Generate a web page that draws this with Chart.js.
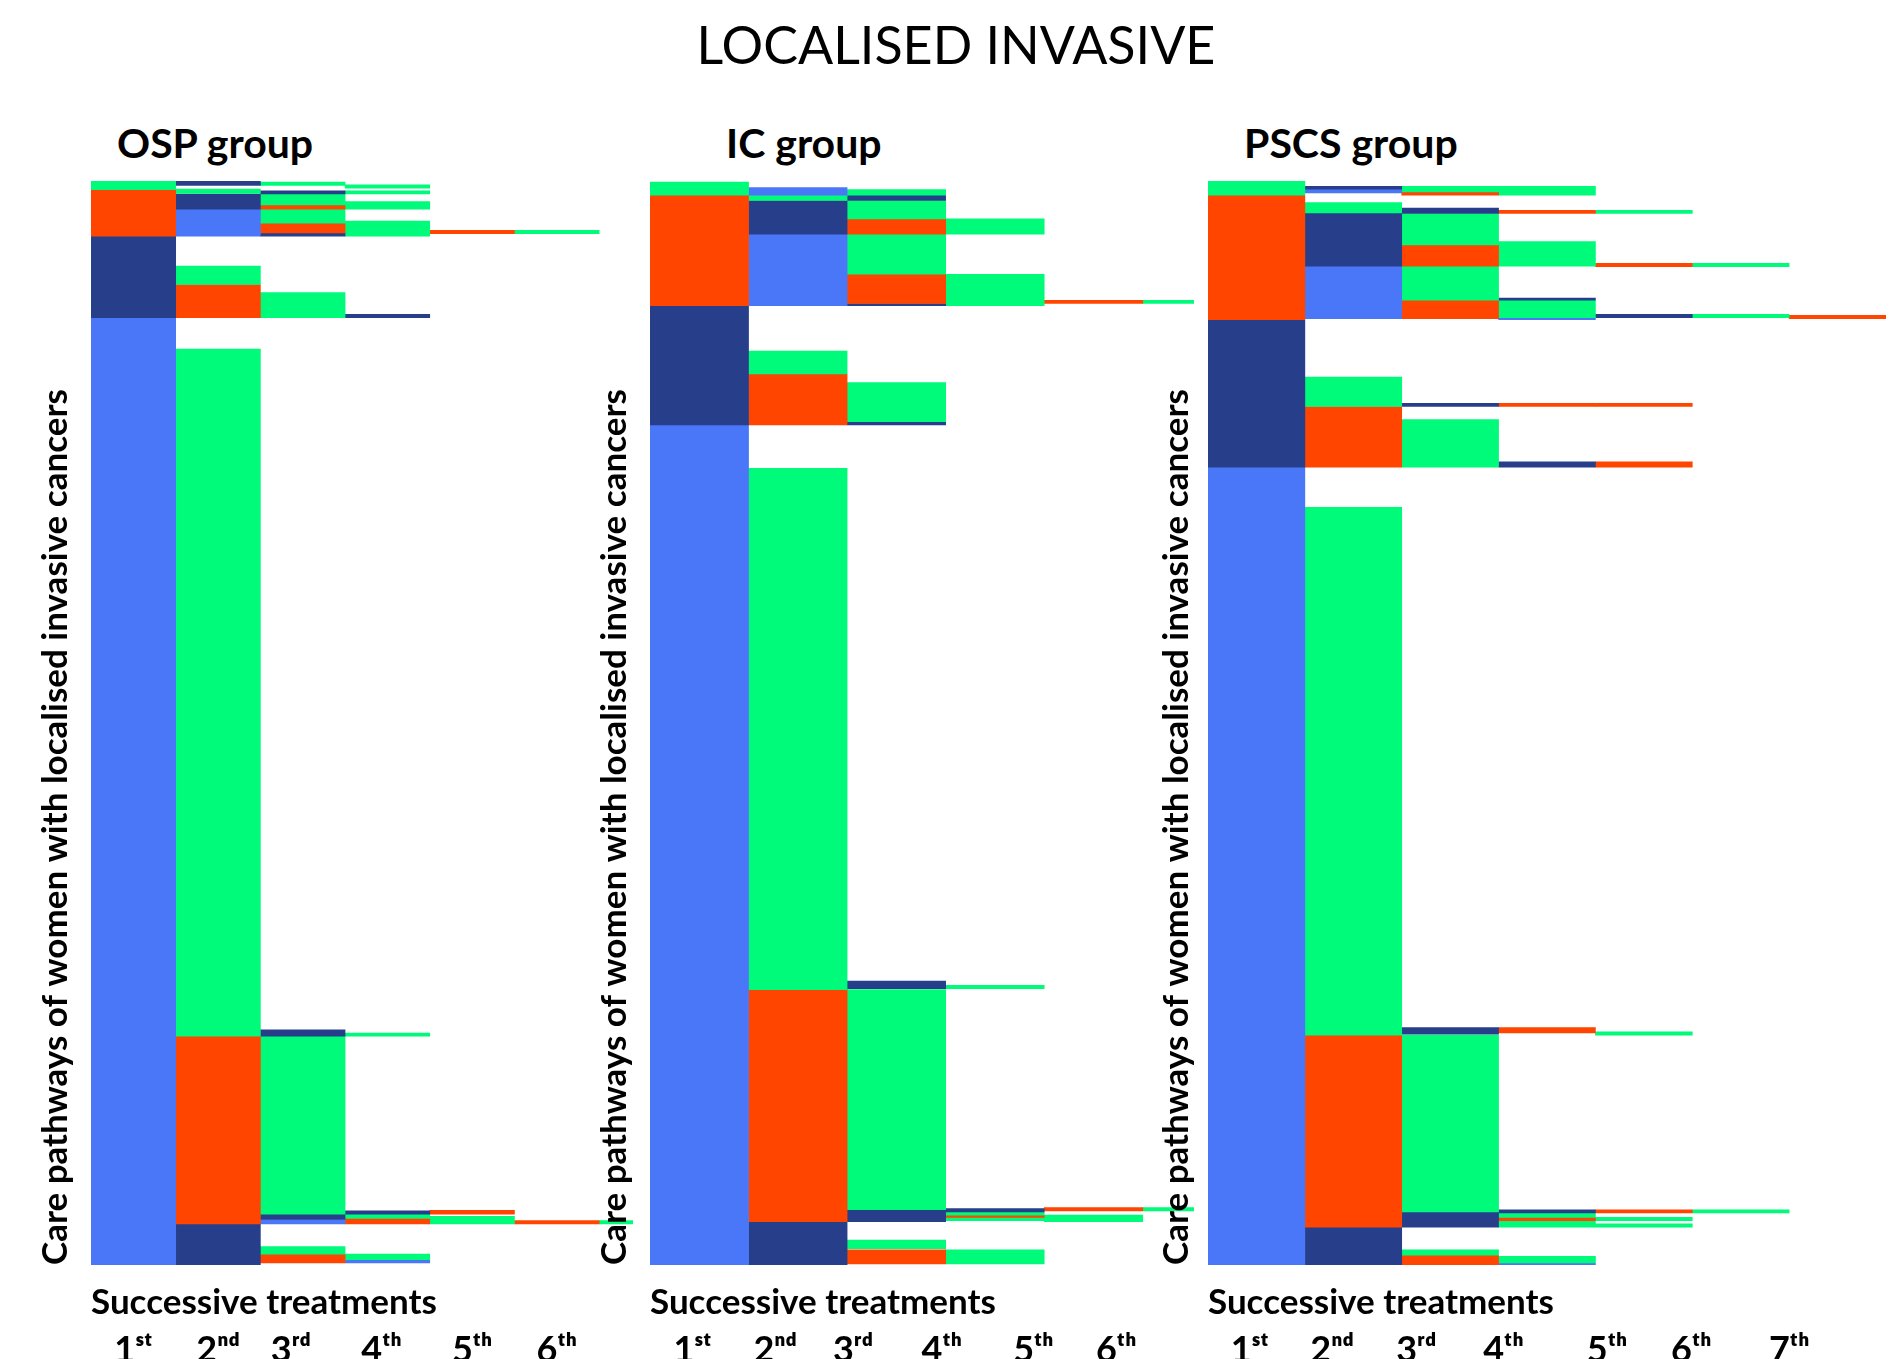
<!DOCTYPE html>
<html>
<head>
<meta charset="utf-8">
<script src="https://cdn.jsdelivr.net/npm/chart.js@4.4.1/dist/chart.umd.min.js"></script>
<style>
  body { margin: 0; background: #fff; width: 1898px; height: 1359px; position: relative; overflow: hidden; font-family: Lato, sans-serif; }
  .ttl { position: absolute; color: #000; white-space: nowrap; }
  #main { left: 0; width: 1912px; text-align: center; top: 18px; font-size: 52px; line-height: 52px; }
  .grp { font-weight: bold; font-size: 41px; line-height: 41px; top: 122px; }
  canvas { position: absolute; top: 170px; }
</style>
</head>
<body>
<div id="main" class="ttl">LOCALISED INVASIVE</div>
<div class="ttl grp" style="left:117px">OSP group</div>
<div class="ttl grp" style="left:726px">IC group</div>
<div class="ttl grp" style="left:1244px">PSCS group</div>
<canvas id="osp"></canvas>
<canvas id="ic"></canvas>
<canvas id="pscs"></canvas>
<script>
// successive treatments (columns) and their tick labels
const stepLabels = ['1ˢᵗ', '2ⁿᵈ', '3ʳᵈ', '4ᵗʰ', '5ᵗʰ', '6ᵗʰ', '7ᵗʰ'];

// treatment types A..D
const typeColors = { A: '#4a77f8', B: '#273f8a', C: '#ff4500', D: '#00fa7a' };

// segments: [treatment step, from %, to %, type]  (% of pathways, from the top)
const ospSegments = [
  [1, 0, 0.8, 'D'], [1, 0.8, 5.1, 'C'], [1, 5.1, 12.6, 'B'], [1, 12.6, 100, 'A'],
  [2, 0, 0.4, 'B'], [2, 0.75, 1.15, 'D'], [2, 1.2, 2.6, 'B'], [2, 2.6, 5.1, 'A'],
  [2, 7.85, 9.55, 'D'], [2, 9.55, 12.6, 'C'],
  [2, 15.5, 78.9, 'D'], [2, 78.9, 96.2, 'C'], [2, 96.2, 100, 'B'],
  [3, 0.1, 0.4, 'D'], [3, 0.9, 1.2, 'B'], [3, 1.2, 2.2, 'D'], [3, 2.2, 2.6, 'C'],
  [3, 2.6, 3.9, 'D'], [3, 3.9, 4.8, 'C'], [3, 4.8, 5.1, 'B'], [3, 10.3, 12.6, 'D'],
  [3, 78.3, 78.9, 'B'], [3, 78.9, 95.3, 'D'], [3, 95.3, 95.8, 'B'], [3, 95.8, 96.2, 'A'],
  [3, 98.3, 99.0, 'D'], [3, 99.0, 99.8, 'C'],
  [4, 0.35, 0.65, 'D'], [4, 0.9, 1.2, 'D'], [4, 1.9, 2.6, 'D'], [4, 3.7, 5.1, 'D'],
  [4, 12.3, 12.6, 'B'], [4, 78.6, 78.9, 'D'], [4, 95.0, 95.3, 'B'], [4, 95.3, 95.7, 'D'],
  [4, 95.7, 96.2, 'C'], [4, 99.0, 99.5, 'D'], [4, 99.5, 99.8, 'A'],
  [5, 4.55, 4.85, 'C'], [5, 94.95, 95.3, 'C'], [5, 95.5, 96.2, 'D'],
  [6, 4.55, 4.85, 'D'], [6, 95.9, 96.2, 'C'],
  [7, 95.9, 96.2, 'D']
];

const icSegments = [
  [1, 0.1, 1.3, 'D'], [1, 1.3, 11.5, 'C'], [1, 11.5, 22.5, 'B'], [1, 22.5, 100, 'A'],
  [2, 0.6, 1.3, 'A'], [2, 1.3, 1.8, 'D'], [2, 1.8, 4.9, 'B'], [2, 4.9, 11.5, 'A'],
  [2, 15.7, 17.8, 'D'], [2, 17.8, 22.5, 'C'],
  [2, 26.5, 74.6, 'D'], [2, 74.6, 96.0, 'C'], [2, 96.0, 100, 'B'],
  [3, 0.8, 1.3, 'D'], [3, 1.3, 1.8, 'B'], [3, 1.8, 3.5, 'D'], [3, 3.5, 4.9, 'C'],
  [3, 4.9, 8.6, 'D'], [3, 8.6, 11.3, 'C'], [3, 11.3, 11.5, 'B'],
  [3, 18.6, 22.2, 'D'], [3, 22.2, 22.5, 'B'],
  [3, 73.8, 74.5, 'B'], [3, 74.6, 94.9, 'D'], [3, 94.9, 96.0, 'B'],
  [3, 97.7, 98.5, 'D'], [3, 98.6, 99.9, 'C'],
  [4, 3.5, 4.9, 'D'], [4, 8.6, 11.5, 'D'], [4, 74.2, 74.5, 'D'],
  [4, 94.8, 95.1, 'B'], [4, 95.1, 95.4, 'D'], [4, 95.4, 95.6, 'C'], [4, 95.6, 95.9, 'D'],
  [4, 98.6, 99.9, 'D'],
  [5, 11.0, 11.3, 'C'], [5, 94.7, 95.0, 'C'], [5, 95.4, 96.0, 'D'],
  [6, 11.0, 11.3, 'D'], [6, 94.7, 95.0, 'D']
];

const pscsSegments = [
  [1, 0, 1.3, 'D'], [1, 1.3, 12.8, 'C'], [1, 12.8, 26.4, 'B'], [1, 26.4, 100, 'A'],
  [2, 0.5, 0.75, 'B'], [2, 0.75, 1.1, 'A'], [2, 2.0, 2.95, 'D'], [2, 2.95, 7.85, 'B'],
  [2, 7.85, 12.7, 'A'], [2, 18.1, 20.8, 'D'], [2, 20.8, 26.4, 'C'],
  [2, 30.1, 78.8, 'D'], [2, 78.8, 96.5, 'C'], [2, 96.5, 100, 'B'],
  [3, 0.5, 1.0, 'D'], [3, 1.0, 1.3, 'C'], [3, 2.5, 3.0, 'B'], [3, 3.0, 5.9, 'D'],
  [3, 5.9, 7.85, 'C'], [3, 7.85, 11.0, 'D'], [3, 11.0, 12.7, 'C'],
  [3, 20.5, 20.8, 'B'], [3, 22.0, 26.4, 'D'],
  [3, 78.1, 78.7, 'B'], [3, 78.8, 95.1, 'D'], [3, 95.1, 96.5, 'B'],
  [3, 98.6, 99.1, 'D'], [3, 99.1, 100, 'C'],
  [4, 0.5, 1.3, 'D'], [4, 2.7, 3.0, 'C'], [4, 5.6, 7.85, 'D'], [4, 10.8, 11.0, 'B'],
  [4, 11.0, 12.6, 'D'], [4, 12.6, 12.8, 'A'], [4, 20.5, 20.8, 'C'], [4, 25.9, 26.4, 'B'],
  [4, 78.1, 78.6, 'C'], [4, 94.9, 95.2, 'B'], [4, 95.2, 95.6, 'D'], [4, 95.6, 95.9, 'C'],
  [4, 95.9, 96.5, 'D'], [4, 99.2, 99.8, 'D'], [4, 99.8, 100, 'A'],
  [5, 2.7, 3.0, 'D'], [5, 7.6, 7.9, 'C'], [5, 12.3, 12.6, 'B'], [5, 20.5, 20.8, 'C'],
  [5, 25.9, 26.4, 'C'], [5, 78.5, 78.8, 'D'], [5, 94.9, 95.2, 'C'], [5, 95.6, 95.9, 'D'],
  [5, 96.2, 96.5, 'D'],
  [6, 7.6, 7.9, 'D'], [6, 12.3, 12.6, 'D'], [6, 94.9, 95.2, 'D'],
  [7, 12.4, 12.7, 'C']
];

const xTitle = 'Successive treatments';
const yTitle = 'Care pathways of women with localised invasive cancers';

// layout of each panel (chart area left, column width, visible columns, label places)
const panels = [
  { id: 'osp', segs: ospSegments, left: 91, colW: 84.7, xMax: 6.9, nLabels: 6,
    tickAt: [1.0, 2.0, 2.86, 3.93, 5.0, 6.0], yPad: 14 },
  { id: 'ic', segs: icSegments, left: 650, colW: 98.5, xMax: 6.02, nLabels: 6,
    tickAt: [0.93, 1.77, 2.56, 3.46, 4.39, 5.23], yPad: 14 },
  { id: 'pscs', segs: pscsSegments, left: 1208, colW: 96.8, xMax: 7.5, nLabels: 7,
    tickAt: [0.93, 1.78, 2.65, 3.55, 4.62, 5.49, 6.5], yPad: 10 }
];

const PAD_L = 10;
const TOP = 170;
const BOTTOM = 1400;   // canvas runs a little past the page so the tick row fits
const CHART_TOP = 181;
const CHART_BOTTOM = 1260;
const X_TITLE_SIZE = 35, X_TITLE_PAD = 17;
const TICK_SIZE = 36, TICK_PAD = 5;
const Y_TITLE_SIZE = 35;
const FUDGE = 10;      // measured: chart area came out ~10px short at the bottom

function buildPanel(p) {
  const yAxisW = Y_TITLE_SIZE * 1.2 + p.yPad;
  const chartW = (p.xMax - 0.5) * p.colW;
  const below = X_TITLE_SIZE * 1.2 + X_TITLE_PAD + TICK_SIZE * 1.2 + TICK_PAD + FUDGE;
  const canvas = document.getElementById(p.id);
  canvas.width = Math.round(PAD_L + yAxisW + chartW);
  canvas.height = BOTTOM - TOP;
  canvas.style.left = (p.left - PAD_L - yAxisW) + 'px';

  const datasets = p.segs.map(s => ({
    data: [{ x: s[0], y: [s[1], s[2]] }],
    backgroundColor: typeColors[s[3]],
    borderWidth: 0,
    grouped: false,
    barPercentage: 1,
    categoryPercentage: 1,
    xAxisID: 'x',
    yAxisID: 'y',
    clip: 0
  }));

  const cols = stepLabels.map((l, i) => i + 1).filter(v => v <= Math.ceil(p.xMax));
  const labels = stepLabels.slice(0, p.nLabels);
  const noGrid = { display: false, drawTicks: false };

  new Chart(canvas, {
    type: 'bar',
    data: { datasets },
    options: {
      responsive: false,
      animation: false,
      layout: { padding: {
        left: PAD_L, right: 0, top: CHART_TOP - TOP,
        bottom: BOTTOM - CHART_BOTTOM - below
      } },
      plugins: { legend: { display: false }, tooltip: { enabled: false } },
      scales: {
        x: {
          type: 'linear', axis: 'x', position: 'bottom', min: 0.5, max: p.xMax,
          offset: false, weight: 0,
          afterBuildTicks: sc => { sc.ticks = cols.map(v => ({ value: v })); },
          ticks: { display: false },
          grid: noGrid, border: { display: false },
          title: {
            display: true, text: xTitle, align: 'start', color: '#000',
            font: { family: 'Lato', size: X_TITLE_SIZE, weight: 'bold' },
            padding: { top: X_TITLE_PAD, bottom: 0 }
          }
        },
        xl: {
          type: 'linear', axis: 'x', position: 'bottom', min: 0.5, max: p.xMax,
          offset: false, weight: 1,
          afterBuildTicks: sc => { sc.ticks = p.tickAt.map(v => ({ value: v })); },
          ticks: {
            autoSkip: false, maxRotation: 0, color: '#000', padding: TICK_PAD,
            font: { family: 'Lato', size: TICK_SIZE, weight: 'bold' },
            callback: (v, i) => labels[i]
          },
          grid: noGrid, border: { display: false }
        },
        y: { type: 'linear', min: 0, max: 100, reverse: true, display: false },
        yt: {
          type: 'linear', axis: 'y', position: 'left', min: 0, max: 100,
          ticks: { display: false },
          grid: noGrid, border: { display: false },
          title: {
            display: true, text: yTitle, align: 'start', color: '#000',
            font: { family: 'Lato', size: Y_TITLE_SIZE, weight: 'bold' },
            padding: { top: 0, bottom: p.yPad }
          }
        }
      }
    }
  });
}

panels.forEach(buildPanel);
</script>
</body>
</html>
